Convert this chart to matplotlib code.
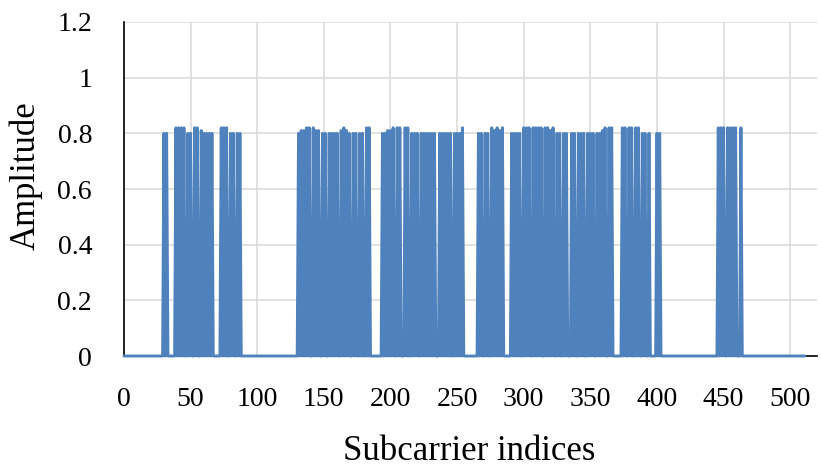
import numpy as np
import matplotlib
matplotlib.use("Agg")
import matplotlib.pyplot as plt
from matplotlib.ticker import FuncFormatter

# amplitude per subcarrier: only the listed subcarriers are active, the rest are zero
num_subcarriers = 512
active_idx = [30, 32,
              39, 41, 43, 45, 48, 50, 53, 55, 58, 60, 62, 64, 66,
              73, 75, 77, 80, 82, 85, 87,
              131, 133, 135, 137, 139, 142, 144, 146, 149, 151,
              154, 156, 158, 160, 163, 165, 167, 169, 172, 174, 177, 179, 182, 184,
              194, 196, 198, 200, 202, 205, 207, 211, 213, 216, 218, 220,
              223, 225, 227, 229, 231, 233, 237, 239, 241, 243, 245, 248, 250, 252, 254,
              266, 268, 271, 273, 276, 278, 280, 282, 284,
              291, 293, 295, 297, 300, 302, 304, 307, 309, 311, 313,
              316, 318, 320, 322, 325, 327, 330, 332,
              336, 338, 341, 343, 345, 348, 350, 352, 355, 357, 359, 361, 364, 366,
              374, 376, 379, 381, 384, 386, 389, 391, 394, 400, 402,
              446, 448, 450, 453, 455, 457, 459, 463]
active_amp = [0.80, 0.80,
              0.82, 0.82, 0.82, 0.82, 0.80, 0.80, 0.82, 0.82, 0.81, 0.80, 0.80, 0.80, 0.80,
              0.82, 0.82, 0.82, 0.80, 0.80, 0.80, 0.80,
              0.80, 0.81, 0.81, 0.82, 0.82, 0.82, 0.81, 0.81, 0.80, 0.80,
              0.80, 0.80, 0.80, 0.80, 0.81, 0.82, 0.81, 0.80, 0.80, 0.80, 0.80, 0.80, 0.82, 0.82,
              0.80, 0.80, 0.81, 0.81, 0.82, 0.82, 0.82, 0.82, 0.82, 0.80, 0.80, 0.80,
              0.80, 0.80, 0.80, 0.80, 0.80, 0.80, 0.80, 0.80, 0.80, 0.80, 0.80, 0.80, 0.80, 0.80, 0.82,
              0.80, 0.80, 0.80, 0.80, 0.82, 0.81, 0.82, 0.81, 0.82,
              0.80, 0.80, 0.80, 0.80, 0.82, 0.82, 0.82, 0.82, 0.82, 0.82, 0.82,
              0.82, 0.82, 0.81, 0.82, 0.80, 0.80, 0.80, 0.80,
              0.80, 0.80, 0.80, 0.80, 0.80, 0.80, 0.80, 0.80, 0.80, 0.80, 0.81, 0.82, 0.82, 0.82,
              0.82, 0.82, 0.82, 0.82, 0.82, 0.82, 0.80, 0.80, 0.80, 0.80, 0.80,
              0.82, 0.82, 0.82, 0.82, 0.82, 0.82, 0.82, 0.82]

idx = np.arange(num_subcarriers)
amp = np.zeros(num_subcarriers)
amp[active_idx] = active_amp

plt.rcParams["font.family"] = ["Liberation Serif", "DejaVu Serif"]

fig = plt.figure(figsize=(8.21, 4.68), dpi=100)
ax = fig.add_axes([0.151, 0.2393, 0.844, 0.7137])

ax.plot(idx, amp, color="#4F81BD", lw=2.1, solid_joinstyle="round",
        solid_capstyle="round", zorder=5, clip_on=False)

ax.set_xlim(0, 520)
ax.set_ylim(0, 1.2)
ax.set_xticks(np.arange(0, 501, 50))
ax.set_yticks(np.arange(0, 1.21, 0.2))
ax.yaxis.set_major_formatter(FuncFormatter(lambda v, p: f"{v:g}"))

ax.grid(True, color="#d9d9d9", lw=1.1, zorder=0)
ax.set_axisbelow(True)
for side in ["top", "right"]:
    ax.spines[side].set_visible(False)
for side in ["left", "bottom"]:
    ax.spines[side].set_color("black")
    ax.spines[side].set_linewidth(1.2)
    ax.spines[side].set_zorder(4)

ax.tick_params(axis="both", length=0, labelsize=20)
ax.tick_params(axis="x", pad=22)
ax.tick_params(axis="y", pad=23)

ax.set_xlabel("Subcarrier indices", fontsize=25)
ax.set_ylabel("Amplitude", fontsize=25)
ax.xaxis.set_label_coords(0.498, -0.235)
ax.yaxis.set_label_coords(-0.118, 0.54)

fig.savefig("out.png", dpi=100)
